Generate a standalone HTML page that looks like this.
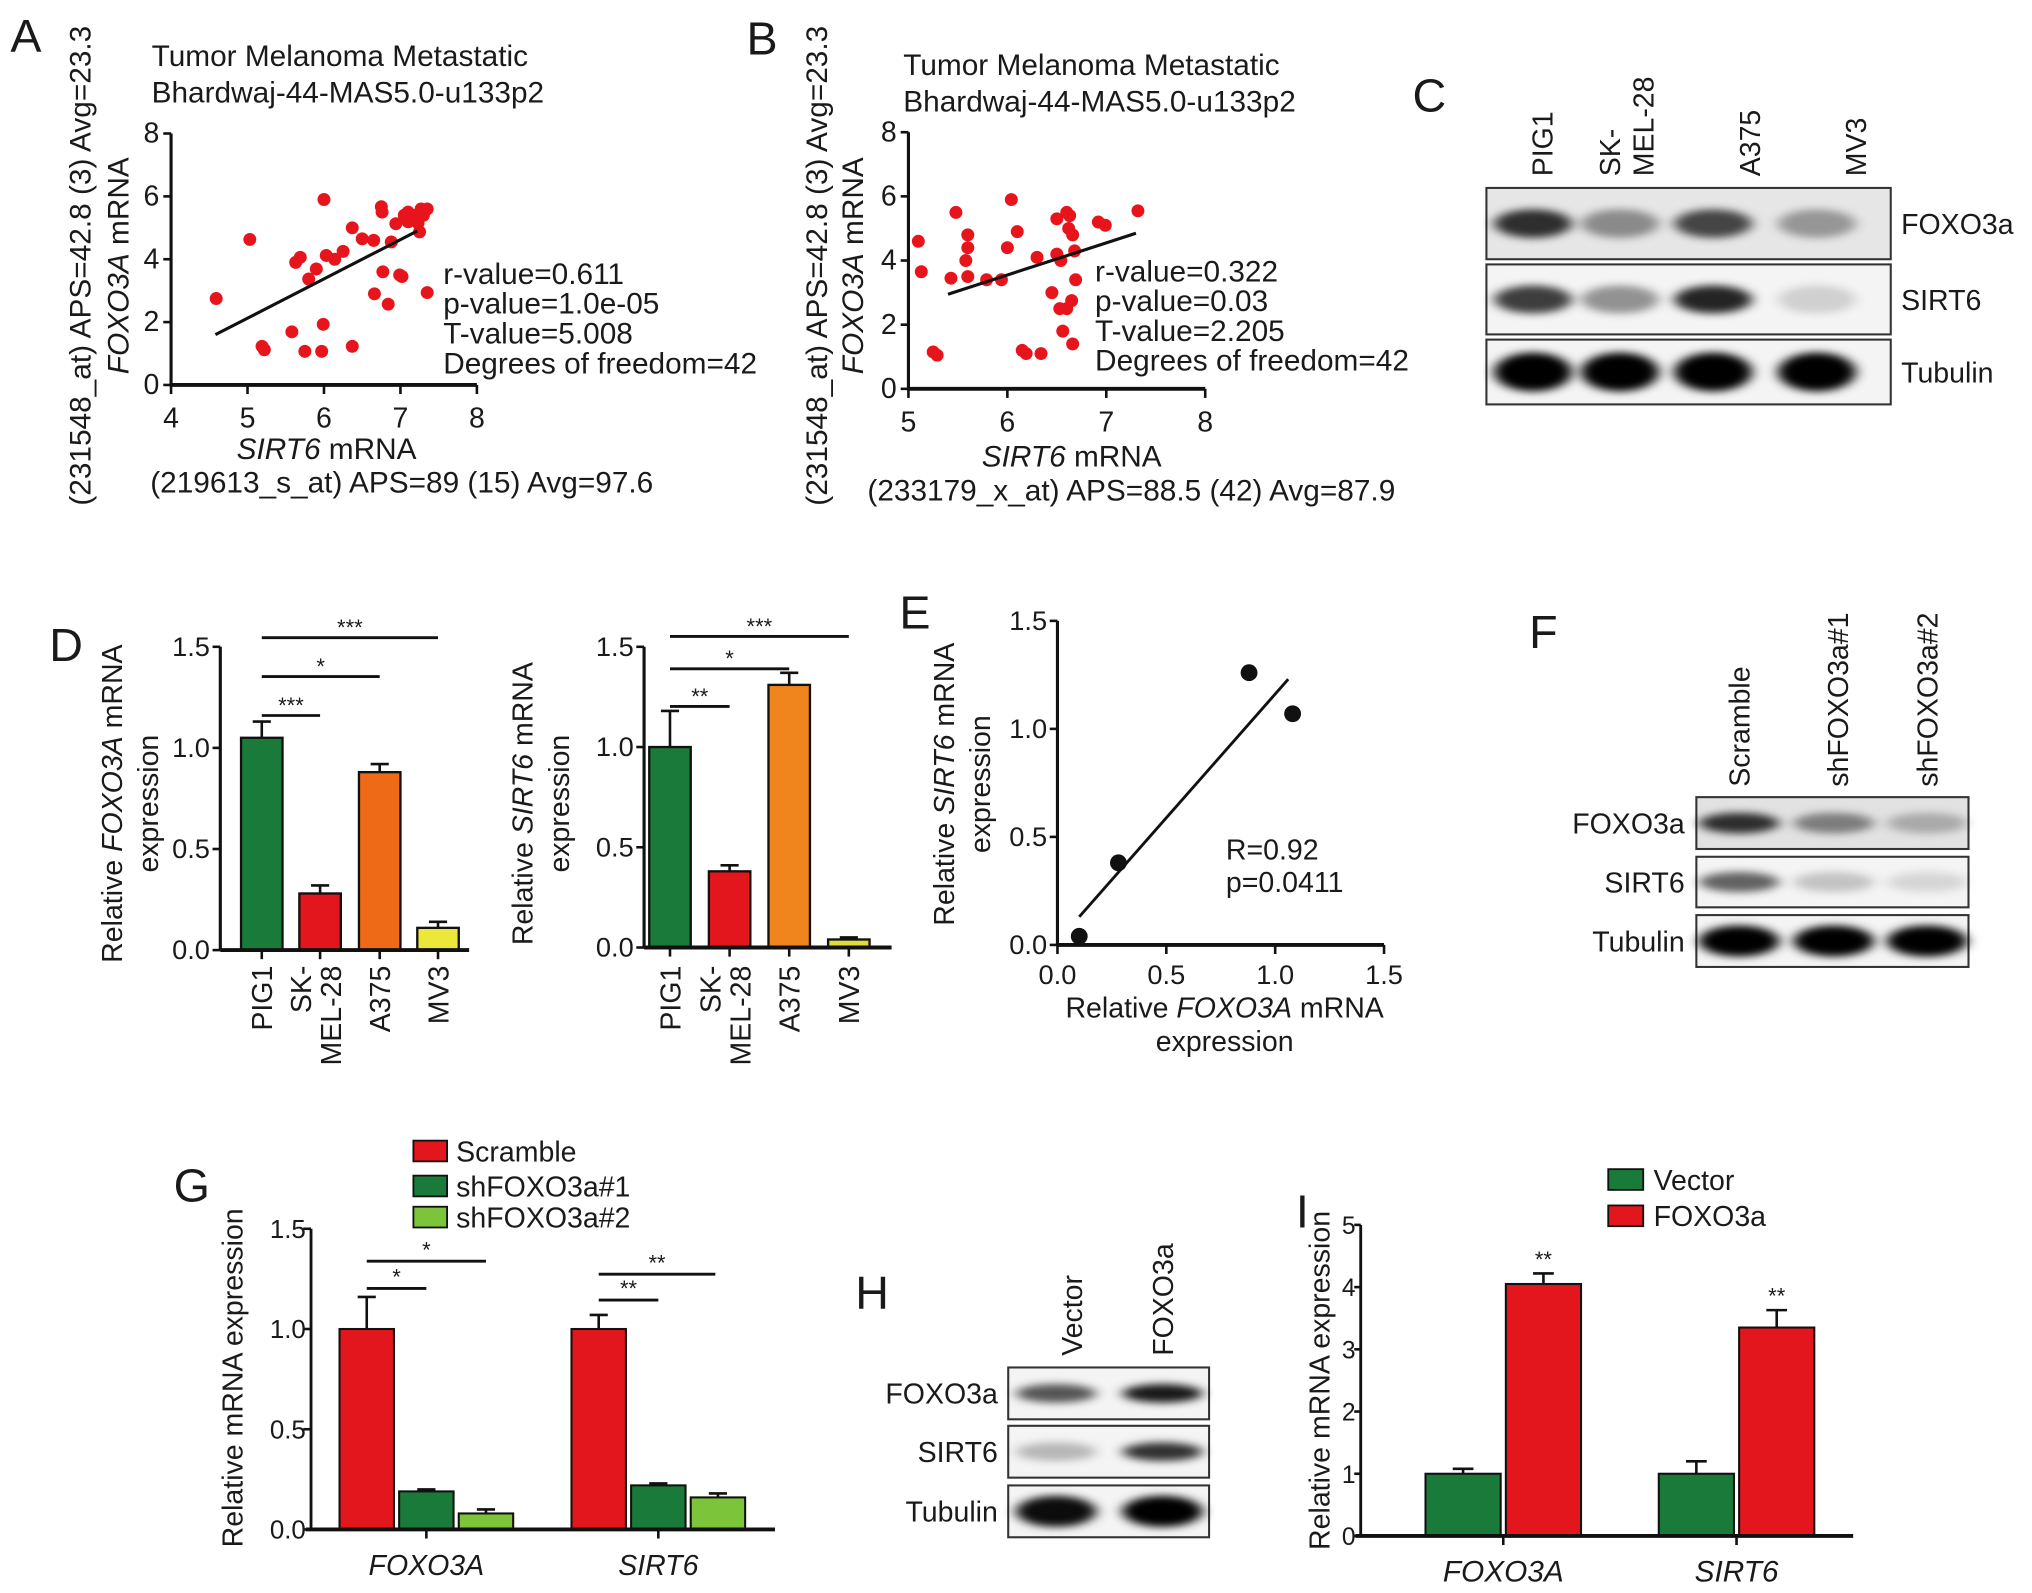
<!DOCTYPE html>
<html><head><meta charset="utf-8"><style>
html,body{margin:0;padding:0;background:#fff;}
svg{display:block;font-family:"Liberation Sans",Arial,sans-serif;}
</style></head><body>
<svg id="fig" width="2032" height="1593" viewBox="0 0 1568 1229" preserveAspectRatio="none" xmlns="http://www.w3.org/2000/svg">
<defs>
<filter id="blur" x="-30%" y="-80%" width="160%" height="260%"><feGaussianBlur stdDeviation="5 3"/></filter>
</defs>
</svg>
<script>
// ---------- DATA ----------
var aX=[4.59,5.03,5.19,5.22,5.58,5.63,5.69,5.75,5.8,5.9,6.0,5.99,5.97,6.03,6.14,6.25,6.37,6.37,6.5,6.65,6.66,6.75,6.76,6.77,6.84,6.88,6.94,6.99,7.02,7.05,7.1,7.15,7.2,7.23,7.27,7.3,7.35,7.25,7.35,7.1];
var aY=[2.75,4.63,1.23,1.12,1.69,3.9,4.06,1.07,3.37,3.69,5.9,1.93,1.07,4.12,4.0,4.25,5.0,1.23,4.65,4.6,2.9,5.67,5.5,3.6,2.57,4.55,5.13,3.5,3.45,5.4,5.19,5.3,5.4,5.15,5.6,5.4,5.6,4.87,2.94,5.5];
var aFit=[4.58,1.6,7.22,4.9];
var bX=[5.1,5.48,5.13,5.25,5.29,5.6,5.58,5.6,5.43,5.6,5.79,5.94,6.04,6.1,6.0,6.15,6.19,6.3,6.34,6.45,6.5,6.5,6.54,6.53,6.56,6.6,6.63,6.66,6.68,6.62,6.69,6.6,6.65,6.92,6.99,7.32,6.66];
var bY=[4.6,5.5,3.65,1.15,1.05,4.8,4.0,4.4,3.45,3.5,3.4,3.4,5.9,4.9,4.4,1.2,1.1,4.1,1.1,3.0,5.3,4.2,4.0,2.5,1.8,5.5,5.4,4.8,4.3,5.0,3.4,2.5,2.75,5.2,5.1,5.55,1.4];
var bFit=[5.4,2.95,7.3,4.85];
var dCats=["PIG1","SK-|MEL-28","A375","MV3"];
var d1Vals=[1.05,0.28,0.88,0.11];
var d1Err=[0.08,0.04,0.04,0.03];
var d2Vals=[1.0,0.38,1.31,0.04];
var d2Err=[0.18,0.03,0.06,0.01];
var eX=[0.1,0.28,0.88,1.08];
var eY=[0.04,0.38,1.26,1.07];
var eFit=[0.1,0.13,1.06,1.23];
var gGroups=["FOXO3A","SIRT6"];
var gSeries=["Scramble","shFOXO3a#1","shFOXO3a#2"];
var gScr=[1.0,1.0], gSh1=[0.19,0.22], gSh2=[0.08,0.16];
var gScrE=[0.16,0.07], gSh1E=[0.01,0.01], gSh2E=[0.02,0.02];
var iSeries=["Vector","FOXO3a"];
var iVec=[1.0,1.0], iFox=[4.05,3.35];
var iVecE=[0.08,0.2], iFoxE=[0.17,0.28];
var ticks15=["0.0","0.5","1.0","1.5"];
var ticks5=["0","1","2","3","4","5"];

// ---------- HELPERS ----------
var svg=document.getElementById('fig');
var NS='http://www.w3.org/2000/svg';
function mk(tag,attrs,parent,txt){var e=document.createElementNS(NS,tag);for(var k in attrs)e.setAttribute(k,attrs[k]);if(txt!==undefined)e.textContent=txt;(parent||svg).appendChild(e);return e;}
function lin(d0,d1,r0,r1){return function(v){return r0+(v-d0)*(r1-r0)/(d1-d0);};}
function grp(name){var g=mk('g',{});return g;}
function line(p,x1,y1,x2,y2,w){return mk('line',{x1:x1,y1:y1,x2:x2,y2:y2,stroke:'#111','stroke-width':w||2.2},p);}
function txt(p,x,y,s,size,anchor,extra){var t=mk('text',{x:x,y:y,'font-size':size||20,'text-anchor':anchor||'start',fill:'#1a1a1a'},p);
  if(typeof s==='string')t.textContent=s;else s.forEach(function(seg){var ts=mk('tspan',seg[1]?{'font-style':'italic'}:{},t,seg[0]);});
  if(extra)for(var k in extra)t.setAttribute(k,extra[k]);return t;}
function rtxt(p,x,y,s,size,anchor){return txt(p,x,y,s,size,anchor||'middle',{transform:'rotate(-90 '+x+' '+y+')'});}
function letter(ch,x,y){var t=txt(svg,x,y,ch,36,'start');}

// ---------- SCATTER A / B ----------
function scatter(name,X,Y,fit,xd,xr,yr,xticks){
  var g=grp(name);
  var sx=lin(xd[0],xd[1],xr[0],xr[1]), sy=lin(0,8,yr[0],yr[1]);
  line(g,xr[0],yr[0],xr[0],yr[1],2.4);line(g,xr[0]-1,yr[0],xr[1],yr[0],3);
  [0,2,4,6,8].forEach(function(v){line(g,xr[0]-6,sy(v),xr[0],sy(v),2);txt(g,xr[0]-9,sy(v)+7,String(v),22,'end');});
  xticks.forEach(function(v){line(g,sx(v),yr[0],sx(v),yr[0]+7,2);txt(g,sx(v),yr[0]+33,String(v),22,'middle');});
  for(var i=0;i<X.length;i++){var c=mk('circle',{cx:sx(X[i]),cy:sy(Y[i]),r:5,fill:'#e8141c'},g);
    
    }
  var fl=line(g,sx(fit[0]),sy(fit[1]),sx(fit[2]),sy(fit[3]),2.4);
  
  
  return {g:g,sx:sx,sy:sy};
}
letter('A',8,40);
var A=scatter('scatter-a',aX,aY,aFit,[4,8],[132,368],[297,103],[4,5,6,7,8]);
txt(A.g,117,51,'Tumor Melanoma Metastatic',23);
txt(A.g,117,79,'Bhardwaj-44-MAS5.0-u133p2',23);
rtxt(A.g,70,205,'(231548_at) APS=42.8 (3) Avg=23.3',23);
rtxt(A.g,99,205,[['FOXO3A',1],[' mRNA']],23);
['r-value=0.611','p-value=1.0e-05','T-value=5.008','Degrees of freedom=42'].forEach(function(s,i){txt(A.g,342,219+i*23,s,23);});
txt(A.g,252,354,[['SIRT6',1],[' mRNA']],23,'middle');
txt(A.g,310,380,'(219613_s_at) APS=89 (15) Avg=97.6',23,'middle');

letter('B',576,42);
var B=scatter('scatter-b',bX,bY,bFit,[5,8],[701,930],[300,102],[5,6,7,8]);
txt(B.g,697,58,'Tumor Melanoma Metastatic',23);
txt(B.g,697,86,'Bhardwaj-44-MAS5.0-u133p2',23);
rtxt(B.g,638,205,'(231548_at) APS=42.8 (3) Avg=23.3',23);
rtxt(B.g,666,205,[['FOXO3A',1],[' mRNA']],23);
['r-value=0.322','p-value=0.03','T-value=2.205','Degrees of freedom=42'].forEach(function(s,i){txt(B.g,845,217+i*23,s,23);});
txt(B.g,827,360,[['SIRT6',1],[' mRNA']],23,'middle');
txt(B.g,873,386,'(233179_x_at) APS=88.5 (42) Avg=87.9',23,'middle');

// ---------- BLOTS ----------
function blot(name,x0,x1,rows,lanes,labels,labelX,anchor,intens){
  var g=grp(name);
  rows.forEach(function(r,ri){
    mk('rect',{x:x0,y:r[0],width:x1-x0,height:r[1]-r[0],fill:ri==0&&intens.bg0?intens.bg0:'#f4f4f4',stroke:'#333','stroke-width':1.6},g);
    lanes.forEach(function(lx,li){var a=intens.v[ri][li];
      var b=mk('ellipse',{cx:lx,cy:(r[0]+r[1])/2,rx:intens.w/2,ry:(r[1]-r[0])*intens.h[ri],fill:'#000','fill-opacity':a,filter:'url(#blur)'},g);
      
      });
    txt(g,labelX,(r[0]+r[1])/2+8,labels[ri],22,anchor);
  });
  return g;
}
letter('C',1090,86);
var C=blot('western-blot-c',1147,1459,[[145,200],[204,258],[262,312]],[1183,1250,1322,1402],['FOXO3a','SIRT6','Tubulin'],1467,'start',
  {w:60,h:[0.2,0.2,0.3],bg0:'#e6e6e6',v:[[0.8,0.4,0.7,0.35],[0.75,0.4,0.85,0.15],[1,1,1,1]]});
[['PIG1',1190],['SK-',1242],['MEL-28',1268],['A375',1350],['MV3',1432]].forEach(function(l){rtxt(C,l[1]+8,136,l[0],22,'start');});

letter('F',1180,500);
var F=blot('western-blot-f',1309,1519,[[615,655],[661,700],[706,746]],[1342,1415,1487],['FOXO3a','SIRT6','Tubulin'],1300,'end',
  {w:62,h:[0.2,0.2,0.3],bg0:'#e2e2e2',v:[[0.8,0.45,0.25],[0.6,0.2,0.12],[1,1,1]]});
[['Scramble',1342],['shFOXO3a#1',1418],['shFOXO3a#2',1487]].forEach(function(l){rtxt(F,l[1]+8,607,l[0],22,'start');});

letter('H',660,1010);
var H=blot('western-blot-h',778,933,[[1055,1095],[1100,1140],[1146,1186]],[815,897],['FOXO3a','SIRT6','Tubulin'],770,'end',
  {w:62,h:[0.18,0.18,0.3],v:[[0.65,0.9],[0.25,0.8],[0.95,1]]});
[['Vector',827],['FOXO3a',897]].forEach(function(l){rtxt(H,l[1]+8,1046,l[0],22,'start');});

// ---------- BAR CHART D ----------
var dColors=['#1a7a3a','#e3161e','#ee6a16','#ece83a'];
var dColors2=['#1a7a3a','#e3161e','#f0851e','#e0dc3a'];
function barD(name,vals,errs,ax,x1,centers,yr,cols,titleX,title,sig){
  var g=grp(name);var sy=lin(0,1.5,yr[0],yr[1]);
  for(var i=0;i<vals.length;i++){
    var bw=32,cx=centers[i];
    line(g,cx,sy(vals[i]),cx,sy(vals[i]+errs[i]),2);line(g,cx-7,sy(vals[i]+errs[i]),cx+7,sy(vals[i]+errs[i]),2);
    var r=mk('rect',{x:cx-bw/2,y:sy(vals[i]),width:bw,height:sy(0)-sy(vals[i]),fill:cols[i],stroke:'#111','stroke-width':1.8},g);
    
    
    line(g,cx,sy(0),cx,sy(0)+7,2);
  }
  line(g,ax,sy(0),ax,sy(1.5),2.4);line(g,ax,sy(0),x1,sy(0),3);
  ticks15.forEach(function(t){var v=parseFloat(t);line(g,ax-6,sy(v),ax,sy(v),2);txt(g,ax-8,sy(v)+7,t,21,'end');});
  rtxt(g,titleX,620,title,22);rtxt(g,titleX+28,620,'expression',22);
  dCats.forEach(function(c,i){var p=c.split('|');if(p.length==1)rtxt(g,centers[i]+8,745,c,22,'end');else{rtxt(g,centers[i]-7,745,p[0],22,'end');rtxt(g,centers[i]+16,745,p[1],22,'end');}});
  sig.forEach(function(s){line(g,centers[0],s[0],centers[s[1]],s[0],2.2);txt(g,(centers[0]+centers[s[1]])/2,s[0]-2,s[2],17,'middle');});
  return g;
}
letter('D',38,510);
barD('bar-chart-d-foxo3a',d1Vals,d1Err,170,362,[202,247,293,338],[733,499],dColors,94,[['Relative '],['FOXO3A',1],[' mRNA']],[[492,3,'***'],[522,2,'*'],[552,1,'***']]);
barD('bar-chart-d-sirt6',d2Vals,d2Err,497,688,[517,563,609,655],[731,499],dColors2,411,[['Relative '],['SIRT6',1],[' mRNA']],[[491,3,'***'],[516,2,'*'],[545,1,'**']]);

// ---------- SCATTER E ----------
letter('E',694,485);
(function(){
  var g=grp('scatter-e');var sx=lin(0,1.5,816,1068),sy=lin(0,1.5,729,479);
  line(g,sx(0),sy(0),sx(0),sy(1.5),2.4);line(g,sx(0),sy(0),sx(1.5),sy(0),3);
  ticks15.forEach(function(t){var v=parseFloat(t);line(g,sx(0)-6,sy(v),sx(0),sy(v),2);txt(g,sx(0)-8,sy(v)+7,t,21,'end');
    line(g,sx(v),sy(0),sx(v),sy(0)+7,2);txt(g,sx(v),sy(0)+30,t,21,'middle');});
  for(var i=0;i<eX.length;i++){var c=mk('circle',{cx:sx(eX[i]),cy:sy(eY[i]),r:6.5,fill:'#111'},g);
    
    }
  line(g,sx(eFit[0]),sy(eFit[1]),sx(eFit[2]),sy(eFit[3]),2.2);
  txt(g,946,663,'R=0.92',22);txt(g,946,688,'p=0.0411',22);
  rtxt(g,736,605,[['Relative '],['SIRT6',1],[' mRNA']],22);rtxt(g,764,605,'expression',22);
  txt(g,945,785,[['Relative '],['FOXO3A',1],[' mRNA']],22,'middle');txt(g,945,811,'expression',22,'middle');
})();

// ---------- GROUPED BAR G ----------
letter('G',134,927);
(function(){
  var g=grp('bar-chart-g');var sy=lin(0,1.5,1180,948);var bw=42;
  var groupX=[283,462];var series=[gScr,gSh1,gSh2],errs=[gScrE,gSh1E,gSh2E],cols=['#e3161e','#1a7a3a','#7cc43a'];
  for(var gi=0;gi<gGroups.length;gi++){
    for(var s=0;s<3;s++){var cx=groupX[gi]+s*46;var v=series[s][gi],e=errs[s][gi];
      line(g,cx,sy(v),cx,sy(v+e),2);line(g,cx-7,sy(v+e),cx+7,sy(v+e),2);
      var r=mk('rect',{x:cx-bw/2,y:sy(v),width:bw,height:sy(0)-sy(v),fill:cols[s],stroke:'#111','stroke-width':1.6},g);
      
      }
    line(g,groupX[gi]+46,sy(0),groupX[gi]+46,sy(0)+7,2);
    txt(g,groupX[gi]+46,1215,[[gGroups[gi],1]],22,'middle');
  }
  line(g,240,sy(0),240,sy(1.5),2.2);line(g,236,sy(0),598,sy(0),3);
  ticks15.forEach(function(t){var v=parseFloat(t);line(g,234,sy(v),240,sy(v),2);txt(g,236,sy(v)+7,t,20,'end');});
  rtxt(g,187,1063,'Relative mRNA expression',22);
  [[994,283,329,'*'],[973,283,375,'*'],[1003,462,508,'**'],[983,462,552,'**']].forEach(function(s){line(g,s[1],s[0],s[2],s[0],2.2);txt(g,(s[1]+s[2])/2,s[0]-3,s[3],17,'middle');});
  var lg=grp('legend-g');
  gSeries.forEach(function(n,i){var y=[888,915,939][i];mk('rect',{x:319,y:y-8,width:26,height:16,fill:cols[i],stroke:'#111','stroke-width':1.4},lg);txt(lg,352,y+8,n,22);});
})();

// ---------- GROUPED BAR I ----------
(function(){
  var t=txt(svg,1000,947,'I',36);
  var g=grp('bar-chart-i');var sy=lin(0,5,1185,945);var bw=58;
  var groupX=[1129,1309];var series=[iVec,iFox],errs=[iVecE,iFoxE],cols=['#1a7a3a','#e3161e'];
  for(var gi=0;gi<2;gi++){
    for(var s=0;s<2;s++){var cx=groupX[gi]+s*62;var v=series[s][gi],e=errs[s][gi];
      line(g,cx,sy(v),cx,sy(v+e),2);line(g,cx-8,sy(v+e),cx+8,sy(v+e),2);
      var r=mk('rect',{x:cx-bw/2,y:sy(v),width:bw,height:sy(0)-sy(v),fill:cols[s],stroke:'#111','stroke-width':1.6},g);
      
      
      if(s==1)txt(g,cx,sy(v+e)-5,'**',17,'middle');}
    line(g,groupX[gi]+31,sy(0),groupX[gi]+31,sy(0)+7,2);
    txt(g,groupX[gi]+31,1220,[[gGroups[gi],1]],23,'middle');
  }
  line(g,1050,sy(0),1050,sy(5),2.2);line(g,1046,sy(0),1430,sy(0),3);
  ticks5.forEach(function(tk){var v=parseFloat(tk);line(g,1045,sy(v),1050,sy(v),2);txt(g,1046,sy(v)+7,tk,19,'end');});
  rtxt(g,1026,1065,'Relative mRNA expression',22);
  var lg=grp('legend-i');
  iSeries.forEach(function(n,i){var y=[910,938][i];mk('rect',{x:1241,y:y-8,width:27,height:16,fill:cols[i],stroke:'#111','stroke-width':1.4},lg);txt(lg,1276,y+8,n,22);});
})();
</script>
</body></html>
